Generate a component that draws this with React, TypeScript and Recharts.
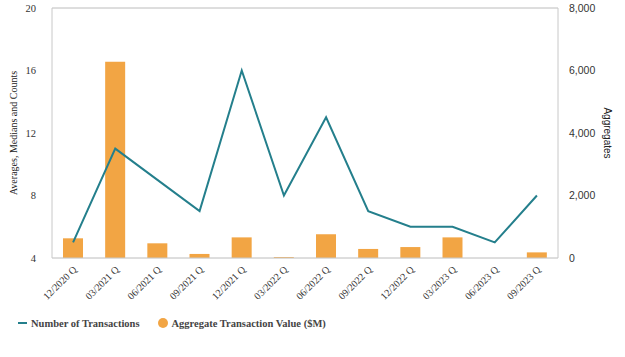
import React from 'react';
import { ComposedChart, Bar, Line, XAxis, YAxis, CartesianGrid, Legend, ReferenceLine } from 'recharts';

const quarters = [
  '12/2020 Q', '03/2021 Q', '06/2021 Q', '09/2021 Q', '12/2021 Q', '03/2022 Q',
  '06/2022 Q', '09/2022 Q', '12/2022 Q', '03/2023 Q', '06/2023 Q', '09/2023 Q',
];
const transactionCounts = [5, 11, 9, 7, 16, 8, 13, 7, 6, 6, 5, 8];
const aggregateValues = [630, 6280, 470, 130, 660, 30, 760, 290, 350, 660, 0, 180];
const leftTicks = [4, 8, 12, 16, 20];
const rightTicks = [0, 2000, 4000, 6000, 8000];

const TEAL = '#247f8c';
const ORANGE = '#f2a544';

const chartData = quarters.map((q, i) => ({
  quarter: q,
  count: transactionCounts[i],
  value: aggregateValues[i],
}));

const QuarterTick = ({ x, y, payload }) => (
  <g transform={`translate(${x},${y})`}>
    <text
      x={0}
      y={0}
      dy={6}
      textAnchor="end"
      transform="rotate(-45)"
      fontFamily="'Liberation Serif', serif"
      fontSize={10}
      fill="#333"
    >
      {payload.value}
    </text>
  </g>
);

const CustomLegend = () => (
  <div
    style={{
      display: 'flex',
      alignItems: 'center',
      fontFamily: "'Liberation Serif', serif",
      fontWeight: 'bold',
      fontSize: 10.5,
      color: '#444',
      paddingLeft: 6,
    }}
  >
    <svg width={10} height={10} style={{ marginRight: 3 }}>
      <line x1={0} y1={5} x2={9} y2={5} stroke={TEAL} strokeWidth={2} />
    </svg>
    <span>Number of Transactions</span>
    <svg width={12} height={12} style={{ marginLeft: 17, marginRight: 3 }}>
      <circle cx={6} cy={6} r={5} fill={ORANGE} />
    </svg>
    <span>Aggregate Transaction Value ($M)</span>
  </div>
);

const App = () => {
  return (
    <div style={{ position: 'absolute', left: 0, top: 0, background: '#fff' }}>
      <ComposedChart
        width={625}
        height={357}
        data={chartData}
        margin={{ top: 8, right: 12, left: 12, bottom: 28 }}
      >
        <CartesianGrid vertical={false} stroke="#e8e8e8" />
        <XAxis
          dataKey="quarter"
          tick={<QuarterTick />}
          tickLine={false}
          axisLine={{ stroke: '#c8c8c8' }}
          interval={0}
          height={59}
        />
        <YAxis
          yAxisId="left"
          domain={[4, 20]}
          ticks={leftTicks}
          tickLine={false}
          axisLine={{ stroke: '#c8c8c8' }}
          width={40}
          tick={{ fontFamily: "'Liberation Serif', serif", fontSize: 10.5, fill: '#333' }}
          tickMargin={10}
          label={{
            value: 'Averages, Medians and Counts',
            angle: -90,
            position: 'insideLeft',
            offset: 1,
            style: { textAnchor: 'middle', fontFamily: "'Liberation Serif', serif", fontSize: 10, fill: '#222' },
          }}
        />
        <YAxis
          yAxisId="right"
          orientation="right"
          domain={[0, 8000]}
          ticks={rightTicks}
          tickLine={false}
          axisLine={{ stroke: '#c8c8c8' }}
          width={55}
          tick={{ fontFamily: "'Liberation Sans', Arial, sans-serif", fontSize: 10.5, fill: '#333' }}
          tickMargin={5}
          tickFormatter={(v) => v.toLocaleString('en-US')}
          label={{
            value: 'Aggregates',
            angle: 90,
            position: 'insideRight',
            offset: 5,
            style: { textAnchor: 'middle', fontFamily: "'Liberation Sans', Arial, sans-serif", fontSize: 10, fill: '#222' },
          }}
        />
        <ReferenceLine yAxisId="left" y={20} stroke="#c8c8c8" />
        <Legend verticalAlign="bottom" align="left" content={<CustomLegend />} />
        <Bar
          yAxisId="right"
          dataKey="value"
          name="Aggregate Transaction Value ($M)"
          fill={ORANGE}
          barSize={20}
          isAnimationActive={false}
        />
        <Line
          yAxisId="left"
          dataKey="count"
          name="Number of Transactions"
          stroke={TEAL}
          strokeWidth={2}
          dot={false}
          isAnimationActive={false}
        />
      </ComposedChart>
    </div>
  );
};

export default App;
